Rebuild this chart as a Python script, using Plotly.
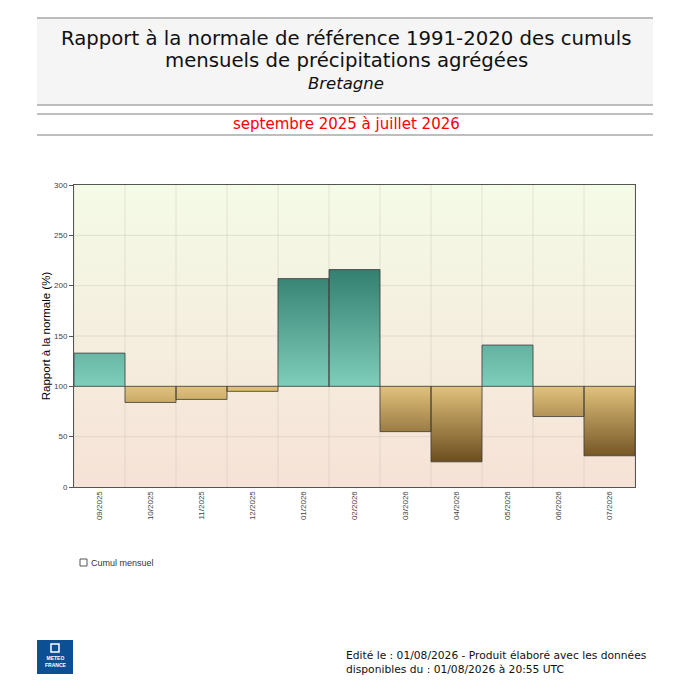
import plotly.graph_objects as go

# ---------------- data ----------------
months = ["09/2025", "10/2025", "11/2025", "12/2025", "01/2026", "02/2026",
          "03/2026", "04/2026", "05/2026", "06/2026", "07/2026"]
ratios = [133, 84, 87, 95, 207, 216, 55, 25, 141, 70, 31]
normal_ref = 100
y_ticks = [0, 50, 100, 150, 200, 250, 300]
legend_label = "Cumul mensuel"

# ---------------- layout geometry (page pixels) ----------------
OFF = 8                      # default page body margin
W, H = 690 - OFF, 690 - OFF
PL, PR, PT, PB = 74, 635, 185, 487


def px(xp):
    return (xp - PL) / (PR - PL)


def py(yp):
    return (PB - yp) / (PB - PT)


n = len(months)
xs = list(range(n))
ymin, ymax = y_ticks[0], y_ticks[-1]

fig = go.Figure()

# plot-area background gradient
fig.add_trace(go.Scatter(
    x=[-0.5, n - 0.5, n - 0.5, -0.5, -0.5], y=[ymin, ymin, ymax, ymax, ymin],
    fill="toself", mode="lines", line=dict(width=0),
    fillgradient=dict(type="vertical", colorscale=[[0, "#f6e2d6"], [1, "#f4fbe7"]],
                      start=ymin, stop=ymax),
    hoverinfo="skip", showlegend=False))

# grid lines (drawn as traces so they stay above the gradient background)
gx, gy = [], []
for k in range(n + 1):
    gx += [k - 0.5, k - 0.5, None]
    gy += [ymin, ymax, None]
for t in y_ticks[1:-1]:
    gx += [-0.5, n - 0.5, None]
    gy += [t, t, None]
fig.add_trace(go.Scatter(x=gx, y=gy, mode="lines",
                         line=dict(color="rgba(190,185,170,0.35)", width=1),
                         hoverinfo="skip", showlegend=False))


def rects(idx):
    X, Y = [], []
    for i in idx:
        r = ratios[i]
        X += [i - 0.5, i + 0.5, i + 0.5, i - 0.5, i - 0.5, None]
        Y += [normal_ref, normal_ref, r, r, normal_ref, None]
    return X, Y


pos = [i for i in xs if ratios[i] >= normal_ref]
neg = [i for i in xs if ratios[i] < normal_ref]

X, Y = rects(pos)
fig.add_trace(go.Scatter(
    x=X, y=Y, fill="toself", mode="lines",
    line=dict(color="rgba(60,60,60,0.8)", width=1),
    fillgradient=dict(type="vertical", colorscale=[[0, "#7fcdbb"], [1, "#337f70"]],
                      start=normal_ref, stop=max(ratios)),
    hoverinfo="skip", showlegend=False))

X, Y = rects(neg)
fig.add_trace(go.Scatter(
    x=X, y=Y, fill="toself", mode="lines",
    line=dict(color="rgba(60,60,60,0.8)", width=1),
    fillgradient=dict(type="vertical", colorscale=[[0, "#6c4e1f"], [1, "#e1c27c"]],
                      start=min(ratios), stop=normal_ref),
    hoverinfo="skip", showlegend=False))

shapes = []
gray = "#a8a8a8"
# header box
shapes.append(dict(type="rect", xref="paper", yref="paper",
                   x0=px(37), x1=px(653), y0=py(105), y1=py(18),
                   fillcolor="#f5f5f5", line=dict(width=0), layer="below"))
for yl in (18, 105, 114, 135):
    shapes.append(dict(type="line", xref="paper", yref="paper",
                       x0=px(37), x1=px(653), y0=py(yl), y1=py(yl),
                       line=dict(color=gray, width=1.3)))
# legend box
shapes.append(dict(type="rect", xref="paper", yref="paper",
                   x0=px(80), x1=px(87), y0=py(566), y1=py(559),
                   fillcolor="white", line=dict(color="#555", width=1)))
# logo
shapes.append(dict(type="rect", xref="paper", yref="paper",
                   x0=px(37), x1=px(73), y0=py(674), y1=py(640),
                   fillcolor="#0d4f94", line=dict(width=0)))
shapes.append(dict(type="rect", xref="paper", yref="paper",
                   x0=px(51), x1=px(59), y0=py(652), y1=py(644),
                   fillcolor="rgba(0,0,0,0)", line=dict(color="white", width=1.5)))

ann = []
title_font = dict(family="DejaVu Sans", size=19.7, color="#111")
ann.append(dict(text="Rapport à la normale de référence 1991-2020 des cumuls",
                x=px(346), y=py(38), xref="paper", yref="paper",
                showarrow=False, font=title_font, xanchor="center", yanchor="middle"))
ann.append(dict(text="mensuels de précipitations agrégées",
                x=px(346), y=py(61), xref="paper", yref="paper",
                showarrow=False, font=title_font, xanchor="center", yanchor="middle"))
ann.append(dict(text="<i>Bretagne</i>",
                x=px(346), y=py(84), xref="paper", yref="paper",
                showarrow=False, font=dict(family="DejaVu Sans", size=16.5, color="#111"),
                xanchor="center", yanchor="middle"))
ann.append(dict(text="septembre 2025 à juillet 2026",
                x=px(346), y=py(124), xref="paper", yref="paper",
                showarrow=False, font=dict(family="DejaVu Sans", size=15, color="#ff0000"),
                xanchor="center", yanchor="middle"))
ann.append(dict(text="Edité le : 01/08/2026 - Produit élaboré avec les données<br>"
                     "disponibles du : 01/08/2026 à 20:55 UTC",
                x=px(344), y=py(662), xref="paper", yref="paper", align="left",
                showarrow=False, font=dict(family="DejaVu Sans", size=10.7, color="#111"),
                xanchor="left", yanchor="middle"))
ann.append(dict(text=legend_label,
                x=px(89), y=py(562.5), xref="paper", yref="paper",
                showarrow=False, font=dict(family="Liberation Sans", size=9, color="#333"),
                xanchor="left", yanchor="middle"))
ann.append(dict(text="<b>METEO<br>FRANCE</b>",
                x=px(55), y=py(661), xref="paper", yref="paper",
                showarrow=False, font=dict(family="Liberation Sans", size=5, color="white"),
                xanchor="center", yanchor="middle"))

fig.update_layout(
    width=W, height=H, autosize=False,
    margin=dict(l=PL - OFF, r=690 - PR, t=PT - OFF, b=690 - PB, pad=0),
    paper_bgcolor="white", plot_bgcolor="white",
    font=dict(family="Liberation Sans", color="#333"),
    shapes=shapes, annotations=ann,
    showlegend=False,
    xaxis=dict(range=[-0.5, n - 0.5], tickvals=xs, ticktext=months, tickangle=-90,
               showgrid=False, zeroline=False, showline=True, mirror=True,
               linecolor="#555", linewidth=1, ticks="",
               tickfont=dict(size=8, color="#444")),
    yaxis=dict(range=[ymin, ymax], tickvals=y_ticks, showgrid=False, zeroline=False,
               showline=True, mirror=True, linecolor="#555", linewidth=1,
               ticks="outside", ticklen=4, tickcolor="#555",
               tickfont=dict(size=8, color="#444"),
               title=dict(text="Rapport à la normale (%)", standoff=1,
                          font=dict(size=11.5, color="#000"))),
)

fig.write_html("out.html")
